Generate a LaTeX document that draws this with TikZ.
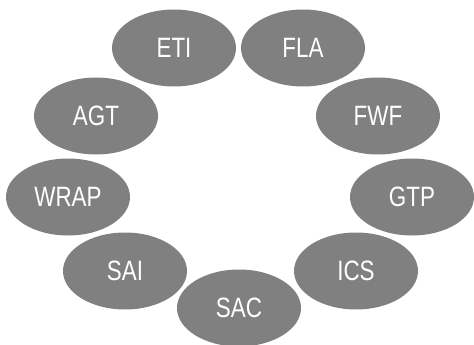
\documentclass[tikz,border=0pt]{standalone}
\usepackage{fontspec}
\usepackage{xcolor}
\usetikzlibrary{shapes.geometric}
\newfontfamily\labelfont[FakeStretch=0.8]{Liberation Sans}
\definecolor{mygray}{RGB}{128, 128, 128}

\begin{document}
\begin{tikzpicture}[
    x=1pt, y=-1pt,
    unit/.style={ellipse, fill=mygray, draw=none, minimum width=124pt, minimum height=77pt, inner sep=0pt, text=white, font=\labelfont\fontsize{28}{28}\selectfont}
]
\useasboundingbox (0,0) rectangle (474,345);

% Top row
\node[unit] (eti) at (174,48) {ETI};
\node[unit] (fla) at (303,48) {FLA};

% Left side
\node[unit] (agt) at (96,116) {AGT};
\node[unit] (wrap) at (68,197) {WRAP};
\node[unit] (sai) at (125,271) {SAI};

% Right side
\node[unit] (fwf) at (378,116) {FWF};
\node[unit] (gtp) at (412,197) {GTP};
\node[unit] (ics) at (356,271) {ICS};

% Bottom
\node[unit] (sac) at (239,308) {SAC};

\end{tikzpicture}
\end{document}
